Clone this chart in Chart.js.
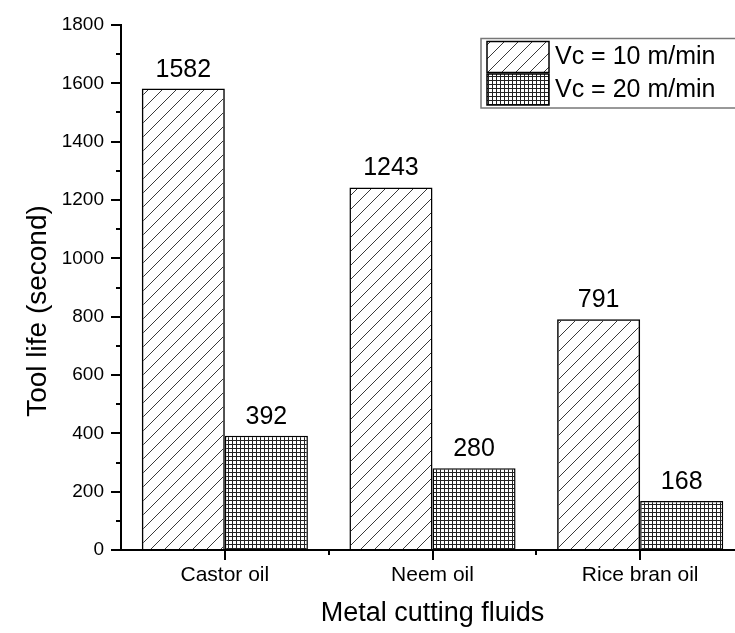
<!DOCTYPE html>
<html>
<head>
<meta charset="utf-8">
<script src="https://cdn.jsdelivr.net/npm/chart.js@4/dist/chart.umd.min.js"></script>
<style>
  html, body { margin: 0; padding: 0; background: #fff; overflow: hidden; }
  #wrap { width: 745px; height: 633px; }
</style>
</head>
<body>
<div id="wrap"><canvas id="c" width="745" height="633"></canvas></div>
<script>
// Tool life for each cutting fluid at two cutting speeds
const categories = ['Castor oil', 'Neem oil', 'Rice bran oil'];
const seriesLabels = ['Vc = 10 m/min', 'Vc = 20 m/min'];
const vc10 = [1582, 1243, 791];
const vc20 = [392, 280, 168];
const yTitle = 'Tool life (second)';
const xTitle = 'Metal cutting fluids';

const FONT = '"Liberation Sans", Arial, sans-serif';

// Diagonal hatch fill
function hatchPattern() {
  const s = 14;
  const t = document.createElement('canvas');
  t.width = s; t.height = s;
  const g = t.getContext('2d');
  g.strokeStyle = '#3a3a3a';
  g.lineWidth = 1;
  g.beginPath();
  g.moveTo(0, s); g.lineTo(s, 0);
  g.moveTo(-2, 2); g.lineTo(2, -2);
  g.moveTo(s - 2, s + 2); g.lineTo(s + 2, s - 2);
  g.stroke();
  return g.createPattern(t, 'repeat');
}

// Fine square grid fill
function gridPattern() {
  const s = 4;
  const t = document.createElement('canvas');
  t.width = s; t.height = s;
  const g = t.getContext('2d');
  g.fillStyle = '#fff';
  g.fillRect(0, 0, s, s);
  g.fillStyle = '#222';
  g.fillRect(0, 0, s, 1);
  g.fillRect(0, 0, 1, s);
  return g.createPattern(t, 'repeat');
}

const fills = [hatchPattern(), gridPattern()];

// Minor ticks, value labels, rotated y title and the boxed legend
const decorations = {
  id: 'decorations',
  afterDatasetsDraw(chart) {
    const ctx = chart.ctx;
    ctx.save();
    ctx.font = '25px ' + FONT;
    ctx.fillStyle = '#000';
    ctx.textAlign = 'center';
    ctx.textBaseline = 'alphabetic';
    chart.data.datasets.forEach((ds, i) => {
      chart.getDatasetMeta(i).data.forEach((bar, j) => {
        ctx.fillText(String(ds.data[j]), bar.x, bar.y - 12);
      });
    });
    ctx.restore();
  },
  afterDraw(chart) {
    const ctx = chart.ctx;
    const { x, y } = chart.scales;
    const area = chart.chartArea;
    ctx.save();
    ctx.strokeStyle = '#000';
    ctx.lineWidth = 2;
    ctx.beginPath();
    // minor y ticks halfway between labelled ticks
    for (let v = 100; v < 1800; v += 200) {
      const py = Math.round(y.getPixelForValue(v));
      ctx.moveTo(area.left - 5, py);
      ctx.lineTo(area.left, py);
    }
    // minor x ticks at category boundaries
    for (let i = 0; i < categories.length - 1; i++) {
      const px = Math.round((x.getPixelForValue(i) + x.getPixelForValue(i + 1)) / 2);
      ctx.moveTo(px, area.bottom);
      ctx.lineTo(px, area.bottom + 5);
    }
    ctx.stroke();

    // y axis title
    ctx.fillStyle = '#000';
    ctx.font = '28px ' + FONT;
    ctx.textAlign = 'center';
    ctx.textBaseline = 'middle';
    ctx.translate(38, 311);
    ctx.rotate(-Math.PI / 2);
    ctx.fillText(yTitle, 0, 0);
    ctx.setTransform(1, 0, 0, 1, 0, 0);

    // legend
    const bx = 481, by = 38.5, bh = 69.5;
    ctx.strokeStyle = '#777';
    ctx.lineWidth = 1.5;
    ctx.strokeRect(bx, by, 300, bh);
    ctx.font = '25px ' + FONT;
    ctx.textAlign = 'left';
    ctx.textBaseline = 'middle';
    chart.data.datasets.forEach((ds, i) => {
      const sy = 41.5 + i * 32.5;
      ctx.fillStyle = ds.backgroundColor;
      ctx.fillRect(487, sy, 62, 31);
      ctx.strokeStyle = '#000';
      ctx.lineWidth = 1.5;
      ctx.strokeRect(487, sy, 62, 31);
      ctx.fillStyle = '#000';
      ctx.fillText(ds.label, 555, sy + 16);
    });
    ctx.restore();
  }
};

new Chart(document.getElementById('c'), {
  type: 'bar',
  data: {
    labels: categories,
    datasets: [
      { label: seriesLabels[0], data: vc10, backgroundColor: fills[0], borderColor: '#000', borderWidth: 1.5 },
      { label: seriesLabels[1], data: vc20, backgroundColor: fills[1], borderColor: '#000', borderWidth: 1.5 }
    ]
  },
  options: {
    responsive: false,
    animation: false,
    events: [],
    layout: { padding: { top: 25, right: 1, left: 0, bottom: 0 } },
    datasets: { bar: { categoryPercentage: 0.8, barPercentage: 1.0 } },
    plugins: { legend: { display: false }, tooltip: { enabled: false } },
    scales: {
      x: {
        offset: true,
        grid: { display: true, offset: false, drawOnChartArea: false, drawTicks: true, tickLength: 10, color: '#000', lineWidth: 2 },
        border: { display: true, color: '#000', width: 2 },
        ticks: { color: '#000', font: { family: FONT, size: 21 }, padding: 3, maxRotation: 0 },
        title: { display: true, text: xTitle, color: '#000', font: { family: FONT, size: 27 }, padding: { top: 0, bottom: 3 } },
        afterFit(s) { s.height = 83; }
      },
      y: {
        min: 0, max: 1800,
        grid: { display: true, drawOnChartArea: false, drawTicks: true, tickLength: 10, color: '#000', lineWidth: 2 },
        border: { display: true, color: '#000', width: 2 },
        ticks: { stepSize: 200, color: '#000', font: { family: FONT, size: 19 }, padding: 7, callback: v => String(v) },
        afterFit(s) { s.width = 121; }
      }
    }
  },
  plugins: [decorations]
});
</script>
</body>
</html>
